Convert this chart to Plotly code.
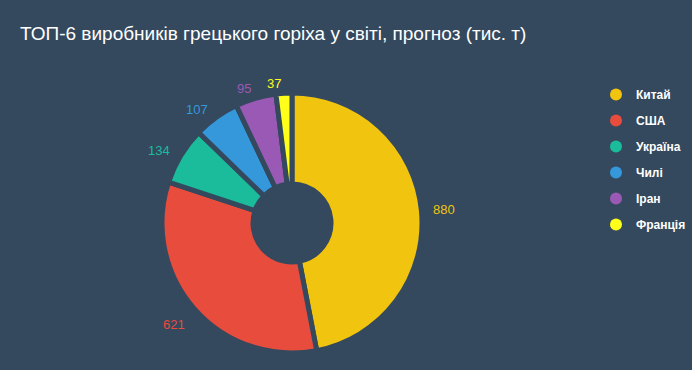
import math
import plotly.graph_objects as go

countries = ["Китай", "США", "Україна", "Чилі", "Іран", "Франція"]
values = [880, 621, 134, 107, 95, 37]
colors = ["#f1c40f", "#e74c3c", "#1abc9c", "#3498db", "#9b59b6", "#ffff1a"]
title = "ТОП-6 виробників грецького горіха у світі, прогноз (тис. т)"
bg = "#34495e"

W, H = 692, 370
cx, cy = 292, 223          # pie centre in pixels (from top-left)
R = 130                    # outer radius incl. border
label_r = 140              # label anchor distance
font = "Liberation Sans, Arial, sans-serif"

fig = go.Figure()
fig.add_trace(go.Pie(
    labels=countries, values=values, sort=False, direction="clockwise", rotation=0,
    hole=0.30, textinfo="none",
    marker=dict(colors=colors, line=dict(color=bg, width=5)),
    domain=dict(x=[(cx - R) / W, (cx + R) / W], y=[(H - cy - R) / H, (H - cy + R) / H]),
    showlegend=False, hoverinfo="label+value",
))

# data labels at slice mid-angles
total = sum(values)
cum = 0
for v, col in zip(values, colors):
    mid = (cum + v / 2) / total * 2 * math.pi
    cum += v
    px = cx + label_r * math.sin(mid)
    py = cy - label_r * math.cos(mid)
    fig.add_annotation(
        x=px / W, y=1 - py / H, xref="paper", yref="paper", text=str(v), showarrow=False,
        xanchor="left" if math.sin(mid) > 0 else "right",
        yanchor="top" if math.cos(mid) < -0.3 else "middle",
        font=dict(color=col, size=13, family=font),
    )

for i, (c, col) in enumerate(zip(countries, colors)):
    fig.add_trace(go.Scatter(
        x=[None], y=[None], mode="markers", name=c, legendgroup=f"g{i}",
        marker=dict(color=col, size=13, symbol="circle"),
    ))

fig.update_layout(
    width=W, height=H,
    paper_bgcolor=bg, plot_bgcolor=bg,
    margin=dict(l=0, r=0, t=0, b=0),
    title=dict(text=title, x=20 / W, xanchor="left", y=1 - 33.5 / H, yanchor="middle",
               font=dict(size=19, color="#ffffff", family=font)),
    xaxis=dict(visible=False), yaxis=dict(visible=False),
    legend=dict(x=596 / W, xanchor="left", y=1 - 80 / H, yanchor="top",
                font=dict(size=12, color="#ffffff", family=font, weight="bold"),
                tracegroupgap=7, itemsizing="constant", bgcolor="rgba(0,0,0,0)"),
)
fig.write_html("out.html")
